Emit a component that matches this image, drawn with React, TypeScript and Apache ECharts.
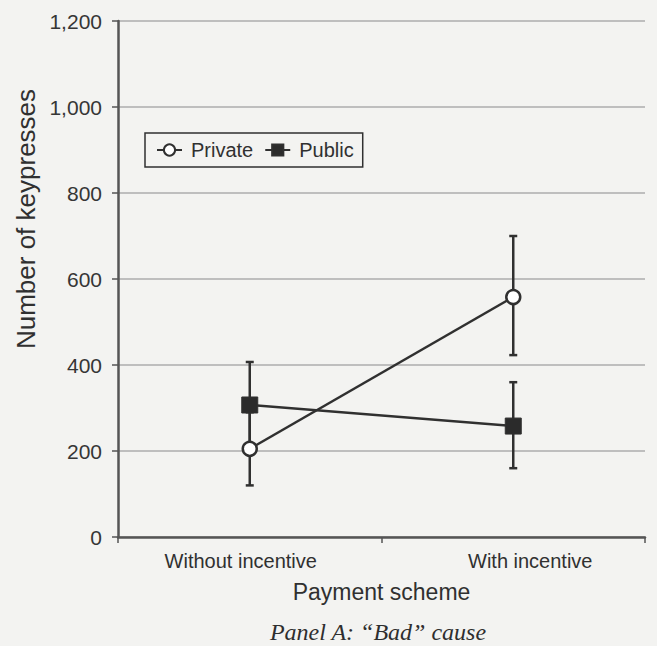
import React, { useEffect, useRef } from "react";
import * as echarts from "echarts";

// Payment scheme categories
const categories = ["Without incentive", "With incentive"];

// Mean number of keypresses per condition
const privateMean = [205, 558];
const publicMean = [307, 258];

// Error bar bounds
const privateLow = [120, 423];
const privateHigh = [290, 700];
const publicLow = [207, 160];
const publicHigh = [407, 360];

const yTicks = [0, 200, 400, 600, 800, 1000, 1200];

const INK = "#303030";
const SANS = "'Liberation Sans', Arial, sans-serif";

function errorBarSeries(name: string, low: number[], high: number[]) {
  return {
    type: "custom",
    name: name + " range",
    z: 1,
    silent: true,
    data: categories.map((_, i) => [i, low[i], high[i]]),
    renderItem: (params: any, api: any) => {
      const x = api.value(0);
      const lo = api.coord([x, api.value(1)]);
      const hi = api.coord([x, api.value(2)]);
      const cap = 4;
      const style = { stroke: INK, lineWidth: 2.5 };
      return {
        type: "group",
        children: [
          { type: "line", shape: { x1: lo[0], y1: lo[1], x2: hi[0], y2: hi[1] }, style },
          { type: "line", shape: { x1: lo[0] - cap, y1: lo[1], x2: lo[0] + cap, y2: lo[1] }, style },
          { type: "line", shape: { x1: hi[0] - cap, y1: hi[1], x2: hi[0] + cap, y2: hi[1] }, style },
        ],
      };
    },
  };
}

export default function App() {
  const ref = useRef<HTMLDivElement>(null);

  useEffect(() => {
    if (!ref.current) return;
    const chart = echarts.init(ref.current, undefined, { renderer: "svg" });
    chart.setOption({
      animation: false,
      backgroundColor: "#f3f3f1",
      grid: { left: 118, right: 12, top: 21, bottom: 109 },
      title: {
        text: "Panel A: \u201cBad\u201d cause",
        left: 373,
        textAlign: "center",
        top: 615,
        textStyle: {
          fontFamily: "'Liberation Serif', 'Times New Roman', serif",
          fontStyle: "italic",
          fontWeight: "normal",
          fontSize: 24,
          color: "#2e2e2e",
        },
      },
      graphic: [
        {
          type: "text",
          x: 26,
          y: 219,
          rotation: Math.PI / 2,
          style: {
            text: "Number of keypresses",
            font: "26px 'Liberation Sans', Arial, sans-serif",
            fill: INK,
            textAlign: "center",
            textVerticalAlign: "middle",
          },
        },
      ],
      legend: {
        left: 145,
        top: 133,
        orient: "horizontal",
        borderColor: INK,
        borderWidth: 1.5,
        padding: [7, 9, 7, 11],
        itemGap: 11,
        itemWidth: 25,
        itemHeight: 14,
        textStyle: { fontFamily: SANS, fontSize: 20, color: INK, padding: [0, 0, 0, 4] },
        data: ["Private", "Public"],
      },
      xAxis: {
        type: "category",
        data: categories,
        boundaryGap: true,
        name: "Payment scheme",
        nameLocation: "middle",
        nameGap: 43,
        nameTextStyle: { fontFamily: SANS, fontSize: 23, color: INK },
        axisLine: { lineStyle: { color: "#555", width: 2.5 } },
        axisTick: { show: true, length: 6, lineStyle: { color: "#555", width: 1.5 } },
        axisLabel: {
          fontFamily: SANS,
          fontSize: 20,
          color: INK,
          margin: 14,
          formatter: (v: string, i: number) => (i === 0 ? `{a|${v}}` : `{b|${v}}`),
          rich: {
            a: { fontFamily: SANS, fontSize: 20, color: INK, padding: [0, 18, 0, 0] },
            b: { fontFamily: SANS, fontSize: 20, color: INK, padding: [0, 0, 0, 34] },
          },
        },
        splitLine: { show: false },
      },
      yAxis: {
        type: "value",
        min: 0,
        max: 1200,
        interval: 200,
        axisLine: { show: true, lineStyle: { color: "#555", width: 2.5 } },
        axisTick: { show: true, inside: false, length: 6, lineStyle: { color: "#555", width: 1.5 } },
        axisLabel: {
          fontFamily: SANS,
          fontSize: 21,
          color: "#363636",
          margin: 16,
          formatter: (v: number) =>
            yTicks.includes(v) ? v.toLocaleString("en-US") : "",
        },
        splitLine: { show: true, lineStyle: { color: "#adadad", width: 1.5 } },
      },
      series: [
        errorBarSeries("Private", privateLow, privateHigh),
        errorBarSeries("Public", publicLow, publicHigh),
        {
          type: "line",
          name: "Private",
          z: 3,
          data: privateMean,
          symbol: "circle",
          symbolSize: 14,
          lineStyle: { color: INK, width: 2.5 },
          itemStyle: { color: "#ffffff", borderColor: INK, borderWidth: 2.5 },
        },
        {
          type: "line",
          name: "Public",
          z: 3,
          data: publicMean,
          symbol: "rect",
          symbolSize: 16,
          lineStyle: { color: INK, width: 2.5 },
          itemStyle: { color: "#2b2b2b", borderColor: INK, borderWidth: 1 },
        },
      ],
    });
    return () => chart.dispose();
  }, []);

  return (
    <div
      ref={ref}
      style={{ position: "absolute", left: 0, top: 0, width: 657, height: 646 }}
    />
  );
}
